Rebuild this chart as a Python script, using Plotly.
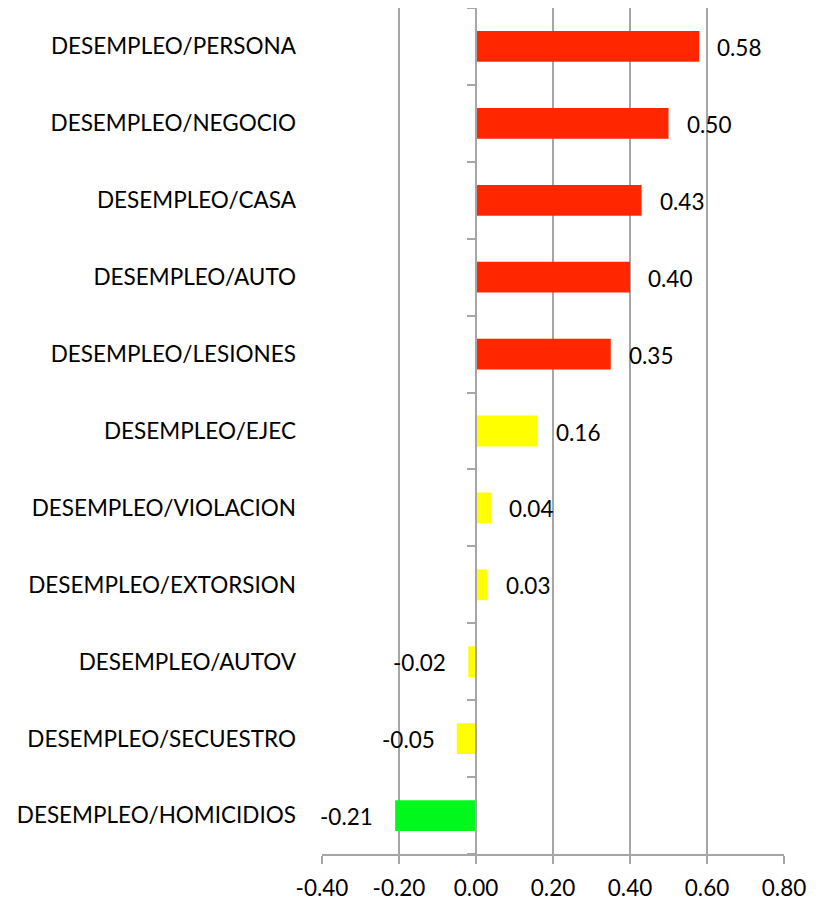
import plotly.graph_objects as go

categories = [
    "DESEMPLEO/PERSONA", "DESEMPLEO/NEGOCIO", "DESEMPLEO/CASA", "DESEMPLEO/AUTO",
    "DESEMPLEO/LESIONES", "DESEMPLEO/EJEC", "DESEMPLEO/VIOLACION", "DESEMPLEO/EXTORSION",
    "DESEMPLEO/AUTOV", "DESEMPLEO/SECUESTRO", "DESEMPLEO/HOMICIDIOS",
]
values = [0.58, 0.50, 0.43, 0.40, 0.35, 0.16, 0.04, 0.03, -0.02, -0.05, -0.21]
bar_colors = ["#FF2600"] * 5 + ["#FFFF00"] * 5 + ["#00F91A"]
x_ticks = [-0.40, -0.20, 0.00, 0.20, 0.40, 0.60, 0.80]
x_tick_labels = ["-0.40", "-0.20", "0.00", "0.20", "0.40", "0.60", "0.80"]

FONT = "Lato"
FS = 22.5
GRID = "#A6A6A6"

fig = go.Figure()
fig.add_trace(go.Bar(
    x=values, y=categories, orientation="h",
    marker=dict(color=bar_colors, line=dict(width=0)),
    hoverinfo="skip",
))
# invisible trace to carry the category axis drawn at x = 0
fig.add_trace(go.Scatter(
    x=[0] * len(categories), y=categories, yaxis="y2", mode="markers",
    marker=dict(opacity=0), hoverinfo="skip", showlegend=False,
))

for v, c in zip(values, categories):
    fig.add_annotation(
        x=v, y=c, text=f"{v:.2f}", showarrow=False,
        xanchor="left" if v >= 0 else "right",
        xshift=16 if v >= 0 else -20, yshift=-1,
        font=dict(family=FONT, size=FS, color="#000000"),
    )

fig.update_layout(
    width=819, height=894,
    margin=dict(l=314, r=43, t=0, b=48, autoexpand=False),
    paper_bgcolor="white", plot_bgcolor="white",
    showlegend=False,
    bargap=0.6,
    font=dict(family=FONT, size=FS, color="#000000"),
    xaxis=dict(
        range=[-0.4, 0.8], tickvals=x_ticks, ticktext=x_tick_labels,
        showgrid=True, gridcolor=GRID, gridwidth=1.5,
        zeroline=False,
        showline=True, linecolor=GRID, linewidth=1.5,
        ticks="outside", ticklen=8, tickcolor=GRID, tickwidth=1.5,
        ticklabelstandoff=5, automargin=False,
        domain=[0, 1],
    ),
    yaxis=dict(
        categoryorder="array", categoryarray=categories[::-1],
        range=[-0.5, len(categories) - 0.5],
        showgrid=False, zeroline=False, showline=False,
        ticks="", ticklabelstandoff=25, automargin=False,
    ),
    yaxis2=dict(
        overlaying="y", anchor="free", position=1 / 3, side="left",
        categoryorder="array", categoryarray=categories[::-1],
        range=[-0.5, len(categories) - 0.5],
        showgrid=False, zeroline=False,
        showline=True, linecolor=GRID, linewidth=1.5,
        ticks="outside", ticklen=8, tickcolor=GRID, tickwidth=1.5,
        tickson="boundaries", showticklabels=False, automargin=False,
    ),
)

fig.write_html("out.html")
